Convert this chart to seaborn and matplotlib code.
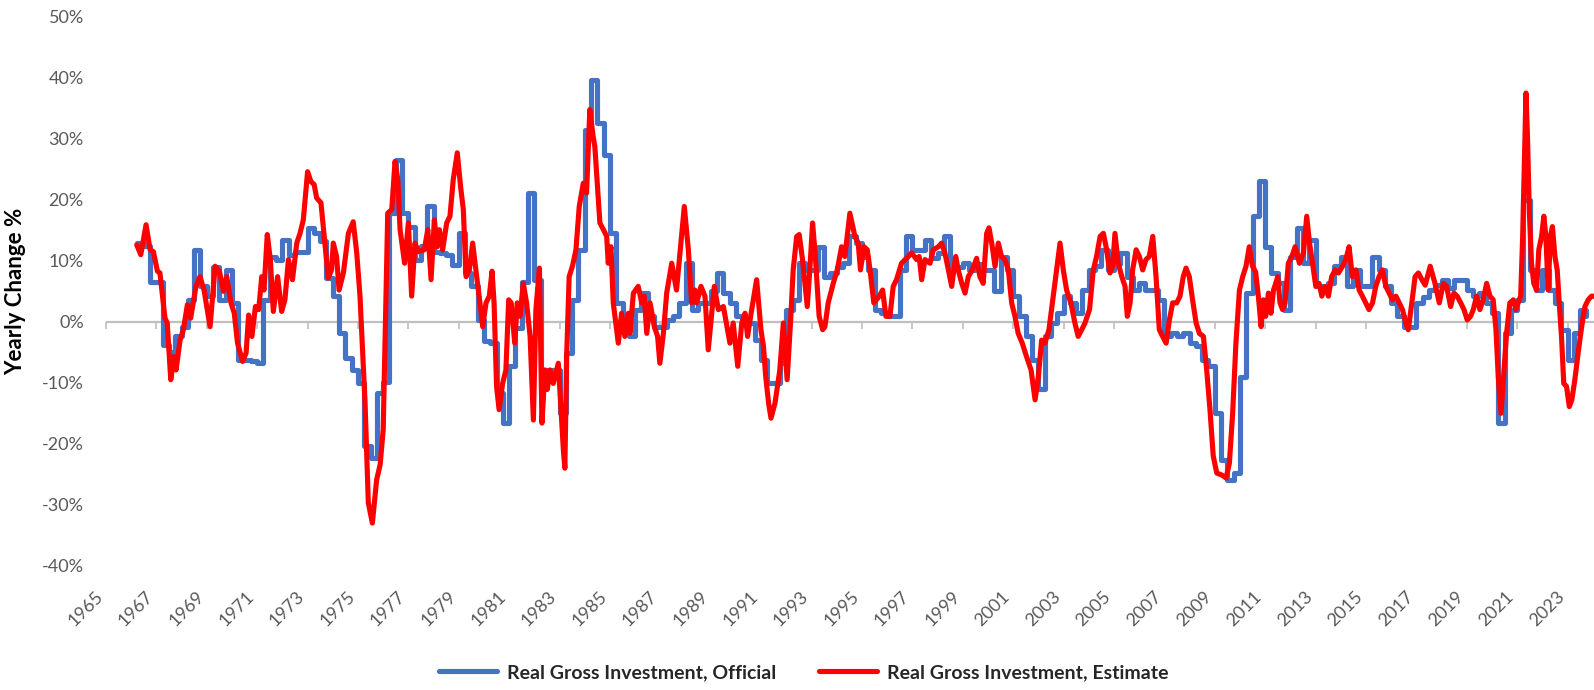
import numpy as np
import seaborn as sns
import matplotlib.pyplot as plt

# Real gross investment, official: quarterly yearly change (%), first value is Q2 1966
official_start = 1966.25
official_q = [
    12.9, 12.5, 6.6,             # 1966
    6.6, -3.8, -5.0, -2.4,       # 1967
    -0.8, 3.6, 11.8, 5.8,        # 1968
    4.2, 9.0, 3.6, 8.5,          # 1969
    3.0, -6.2, -6.2, -6.5,       # 1970
    -6.8, 3.6, 10.7, 10.2,       # 1971
    13.4, 11.0, 11.5, 11.5,      # 1972
    15.4, 14.5, 13.2, 7.2,       # 1973
    4.2, -1.9, -6.0, -7.9,       # 1974
    -10.0, -20.4, -22.3, -11.7,  # 1975
    -9.8, 17.8, 26.6, 17.8,      # 1976
    15.6, 10.2, 12.5, 18.9,      # 1977
    11.5, 11.3, 11.0, 9.3,       # 1978
    14.5, 8.0, 5.8, 0.3,         # 1979
    -3.2, -3.5, -11.7, -16.6,    # 1980
    -7.3, -1.0, 6.5, 21.1,       # 1981
    6.9, -7.9, -7.9, -7.9,       # 1982
    -15.0, -5.1, 3.6, 11.8,      # 1983
    31.5, 39.7, 32.6, 27.4,      # 1984
    14.5, 3.0, 0.0, -2.4,        # 1985
    2.0, 4.7, 0.9, -0.8,         # 1986
    -0.8, 0.3, 0.9, 3.1,         # 1987
    9.6, 2.0, 3.1, 3.1,          # 1988
    5.0, 8.0, 4.7, 3.1,          # 1989
    0.9, -0.2, -0.2, -3.0,       # 1990
    -6.2, -10.0, -10.0, -6.8,    # 1991
    2.0, 3.6, 9.6, 8.5,          # 1992
    8.5, 12.3, 7.4, 8.0,         # 1993
    9.0, 9.6, 14.0, 12.9,        # 1994
    10.7, 8.5, 2.0, 1.5,         # 1995
    0.9, 0.9, 8.5, 14.0,         # 1996
    11.8, 11.8, 13.4, 10.5,      # 1997
    11.3, 14.0, 9.0, 9.0,        # 1998
    9.6, 8.5, 9.5, 8.5,          # 1999
    8.5, 5.0, 10.7, 8.5,         # 2000
    4.2, 0.9, -2.4, -6.2,        # 2001
    -11.1, -2.4, -0.2, 1.5,      # 2002
    4.2, 3.1, 1.4, 5.2,          # 2003
    8.5, 9.1, 11.8, 8.5,         # 2004
    9.5, 11.3, 7.4, 5.2,         # 2005
    6.3, 5.2, 5.2, 3.6,          # 2006
    -2.4, -1.9, -2.4, -1.9,      # 2007
    -3.5, -4.0, -6.2, -7.3,      # 2008
    -15.0, -22.6, -25.9, -24.8,  # 2009
    -9.0, 4.7, 17.3, 23.0,       # 2010
    12.3, 8.0, 6.3, 2.0,         # 2011
    10.7, 15.4, 9.6, 13.4,       # 2012
    5.8, 5.2, 6.3, 9.1,          # 2013
    10.7, 5.8, 8.5, 5.8,         # 2014
    5.8, 10.7, 8.5, 5.8,         # 2015
    3.1, 0.9, -0.8, -0.8,        # 2016
    3.0, 4.0, 5.2, 6.0,          # 2017
    6.9, 5.5, 6.9, 6.9,          # 2018
    5.2, 4.2, 4.7, 3.1,          # 2019
    1.4, -16.6, -1.9, 2.0,       # 2020
    3.6, 20.0, 8.5, 5.2,         # 2021
    8.5, 5.2, 3.1, -1.3,         # 2022
    -6.2, -1.9, 2.0, 0.9,        # 2023
]

# Real gross investment, estimate: date (decimal year) and yearly change (%)
est_t = [
    1966.22, 1966.38, 1966.59, 1966.75, 1966.88, 1967.04, 1967.14, 1967.34, 1967.43, 1967.57, 1967.70, 1967.78, 1967.94,
    1968.07, 1968.23, 1968.36, 1968.57, 1968.73, 1968.89, 1969.13, 1969.33, 1969.50, 1969.66, 1969.79, 1969.96,
    1970.09, 1970.22, 1970.42, 1970.56, 1970.66, 1970.79, 1970.93, 1971.06, 1971.18, 1971.27, 1971.40, 1971.52, 1971.64, 1971.81, 1971.97,
    1972.10, 1972.24, 1972.40, 1972.57, 1972.70, 1972.83, 1973.00, 1973.13, 1973.26, 1973.36, 1973.53, 1973.66, 1973.82, 1973.95,
    1974.02, 1974.15, 1974.25, 1974.42, 1974.62, 1974.81, 1974.95, 1975.08, 1975.28, 1975.41, 1975.57, 1975.74, 1975.88,
    1976.00, 1976.18, 1976.34, 1976.47, 1976.58, 1976.67, 1976.85, 1977.00, 1977.13, 1977.26, 1977.40, 1977.63, 1977.77, 1977.90,
    1978.03, 1978.14, 1978.23, 1978.36, 1978.52, 1978.65, 1978.78, 1978.94, 1979.07, 1979.18, 1979.29, 1979.42, 1979.55, 1979.71, 1979.84, 1979.95,
    1980.08, 1980.21, 1980.32, 1980.40, 1980.50, 1980.60, 1980.74, 1980.87, 1980.98, 1981.08, 1981.22, 1981.32, 1981.43, 1981.56, 1981.69, 1981.83, 1981.96,
    1982.06, 1982.20, 1982.30, 1982.42, 1982.51, 1982.62, 1982.75, 1982.95, 1983.04, 1983.15, 1983.21, 1983.28, 1983.38, 1983.51, 1983.65, 1983.78, 1983.94,
    1984.07, 1984.20, 1984.33, 1984.40, 1984.54, 1984.60, 1984.74, 1984.87, 1984.93, 1985.04, 1985.13, 1985.33, 1985.46, 1985.59, 1985.73, 1985.79, 1985.93,
    1986.12, 1986.26, 1986.36, 1986.46, 1986.59, 1986.76, 1986.89, 1986.98, 1987.12, 1987.25, 1987.45, 1987.64, 1987.95,
    1988.11, 1988.24, 1988.37, 1988.44, 1988.61, 1988.77, 1988.90, 1989.14, 1989.30, 1989.50, 1989.76, 1989.89,
    1990.07, 1990.23, 1990.36, 1990.46, 1990.60, 1990.82, 1990.99, 1991.09, 1991.18, 1991.30, 1991.39, 1991.55, 1991.74, 1991.88,
    1992.03, 1992.17, 1992.27, 1992.41, 1992.51, 1992.64, 1992.83, 1992.93, 1993.04, 1993.15, 1993.30, 1993.44, 1993.53, 1993.66, 1993.86,
    1994.02, 1994.19, 1994.32, 1994.52, 1994.72, 1994.85, 1994.94, 1995.08, 1995.21, 1995.32, 1995.47, 1995.69, 1995.82, 1995.95,
    1996.11, 1996.24, 1996.37, 1996.57, 1996.84, 1996.97, 1997.17, 1997.27, 1997.37, 1997.50, 1997.70, 1997.83,
    1998.03, 1998.16, 1998.29, 1998.43, 1998.56, 1998.72, 1998.82, 1998.96, 1999.09, 1999.22, 1999.38, 1999.55, 1999.68, 1999.81, 1999.95,
    2000.04, 2000.15, 2000.28, 2000.41, 2000.54, 2000.67, 2000.81, 2000.94, 2001.07, 2001.20, 2001.36, 2001.53, 2001.71, 2001.87,
    2002.00, 2002.13, 2002.26, 2002.42, 2002.59, 2002.72, 2002.86, 2002.99, 2003.12, 2003.29, 2003.45, 2003.58, 2003.72, 2003.85,
    2004.03, 2004.18, 2004.31, 2004.45, 2004.58, 2004.71, 2004.84, 2004.95, 2005.04, 2005.17, 2005.31, 2005.44, 2005.53, 2005.64, 2005.74, 2005.88,
    2006.01, 2006.14, 2006.27, 2006.40, 2006.54, 2006.67, 2006.80, 2006.93, 2007.07, 2007.20, 2007.33, 2007.49, 2007.62, 2007.75, 2007.86, 2007.99,
    2008.12, 2008.26, 2008.39, 2008.55, 2008.68, 2008.81, 2008.94, 2009.08, 2009.27, 2009.45, 2009.58, 2009.71, 2009.84, 2009.98,
    2010.11, 2010.24, 2010.37, 2010.50, 2010.62, 2010.73, 2010.84, 2010.93, 2011.02, 2011.13, 2011.23, 2011.33, 2011.42, 2011.50, 2011.59, 2011.69, 2011.79, 2011.92,
    2012.06, 2012.19, 2012.36, 2012.52, 2012.65, 2012.76, 2012.88, 2013.01, 2013.14, 2013.25, 2013.38, 2013.51, 2013.64, 2013.78, 2013.91,
    2014.07, 2014.20, 2014.33, 2014.46, 2014.60, 2014.73, 2014.86, 2014.99, 2015.12, 2015.26, 2015.39, 2015.52, 2015.65, 2015.79, 2015.92,
    2016.05, 2016.19, 2016.32, 2016.45, 2016.58, 2016.68, 2016.82, 2016.95, 2017.08, 2017.22, 2017.35, 2017.55, 2017.74, 2017.91,
    2018.07, 2018.20, 2018.36, 2018.49, 2018.62, 2018.76, 2018.89, 2019.02, 2019.15, 2019.26, 2019.39, 2019.52, 2019.65, 2019.79, 2019.92,
    2020.05, 2020.16, 2020.25, 2020.36, 2020.48, 2020.58, 2020.71, 2020.85, 2020.95, 2021.04, 2021.14, 2021.22, 2021.28, 2021.35, 2021.41, 2021.48, 2021.57, 2021.66, 2021.77, 2021.86, 2021.97,
    2022.06, 2022.14, 2022.23, 2022.32, 2022.40, 2022.50, 2022.59, 2022.67, 2022.76, 2022.85, 2022.96, 2023.07, 2023.17, 2023.29, 2023.42, 2023.56, 2023.69, 2023.82, 2023.95, 2024.03,
]
est_v = [
    12.6, 11.0, 15.9, 11.8, 11.5, 8.3, 8.0, 0.6, -0.2, -9.5, -5.7, -7.9, -3.0,
    -1.3, 2.8, 0.6, 5.8, 7.4, 5.2, -0.8, 9.1, 8.3, 5.0, 7.4, 3.1,
    1.4, -3.5, -6.5, -5.1, 1.1, -2.4, 2.5, 2.0, 7.4, 5.2, 14.3, 10.2, 1.7, 7.4, 1.7,
    3.6, 10.2, 6.9, 12.9, 14.5, 16.7, 24.6, 23.0, 22.5, 20.3, 19.5, 14.0, 7.2, 8.5,
    12.9, 10.7, 5.2, 8.0, 14.5, 16.4, 11.3, 4.2, -13.3, -29.7, -33.0, -25.9, -23.4,
    -17.7, 17.8, 18.4, 26.3, 23.3, 15.1, 9.6, 16.2, 4.2, 12.9, 11.5, 11.8, 15.1, 6.9,
    16.7, 12.3, 15.1, 11.8, 16.2, 17.3, 23.3, 27.7, 22.2, 18.4, 7.4, 8.5, 12.9, 7.4, 3.1, -0.8,
    3.1, 4.2, 8.3, 3.1, -10.6, -14.4, -10.1, -7.9, 3.6, 3.1, -3.5, 3.1, 0.9, 6.3, 3.1, -2.4, -16.1,
    2.0, 8.8, -16.6, -7.9, -11.1, -7.9, -10.1, -6.8, -13.3, -21.0, -24.0, -5.7, 7.4, 9.1, 11.8, 18.9, 22.7,
    21.1, 34.8, 30.4, 28.7, 20.0, 16.2, 15.1, 14.0, 9.6, 12.3, 3.1, -3.5, 1.4, -2.4, 1.4, -1.9, 4.7,
    5.8, 3.1, 4.2, -1.9, 3.1, -0.8, -2.4, -6.8, -1.9, 4.7, 9.6, 5.2, 18.9,
    11.8, 3.1, 5.2, 3.1, 5.8, 4.2, -4.6, 5.8, 2.0, 2.5, -3.5, -0.2,
    -7.3, -0.2, 1.4, -2.4, 1.4, 6.9, -1.3, -4.0, -9.0, -13.5, -15.8, -13.3, -7.9, -0.2,
    -9.5, 0.3, 8.5, 14.0, 14.3, 10.2, 2.5, 8.5, 16.2, 10.7, 0.9, -1.3, -0.8, 3.1, 6.3,
    8.5, 12.3, 10.7, 17.8, 14.0, 12.9, 8.5, 12.3, 11.8, 8.5, 3.1, 4.2, 5.2, 0.9,
    0.9, 5.8, 6.9, 9.6, 10.7, 11.3, 10.2, 10.7, 6.9, 10.2, 9.6, 11.8,
    12.3, 12.9, 11.3, 8.5, 5.8, 10.7, 8.5, 6.3, 4.7, 7.4, 8.5, 10.4, 7.4, 6.3, 14.5,
    15.4, 12.9, 9.1, 12.9, 10.7, 10.2, 8.5, 3.1, 0.9, -1.9, -3.5, -5.7, -7.9, -12.8,
    -9.0, -3.0, -3.5, -1.3, 4.2, 8.5, 12.9, 8.5, 5.2, 3.1, -0.2, -2.4, -1.3, -0.2,
    2.0, 8.5, 10.7, 14.0, 14.5, 11.8, 8.0, 9.1, 14.5, 9.6, 7.4, 5.8, 0.9, 3.1, 8.5, 11.8,
    10.7, 8.5, 10.2, 10.7, 14.0, 7.4, -1.3, -2.4, -3.5, 0.3, 3.1, 3.1, 4.2, 7.4, 8.8, 7.4,
    3.6, -0.2, -1.9, -2.4, -7.9, -14.4, -22.0, -24.8, -25.1, -25.6, -23.2, -15.0, -3.5, 5.2,
    7.4, 9.1, 12.3, 9.1, 8.2, 4.2, -0.8, 3.6, 0.9, 4.7, 1.4, 5.2, 6.3, 7.4, 3.1, 2.0, 3.1, 9.6,
    10.7, 12.3, 9.6, 11.3, 17.3, 12.9, 9.6, 5.8, 6.3, 4.2, 5.8, 4.2, 7.4, 8.5, 8.0,
    9.1, 10.2, 12.3, 7.4, 8.5, 5.2, 4.2, 3.1, 2.0, 3.1, 5.8, 7.4, 8.5, 5.8, 4.7,
    3.6, 4.2, 3.1, 2.0, -0.2, -1.3, 3.1, 7.4, 8.0, 6.9, 6.0, 9.1, 6.3, 3.1,
    6.3, 5.8, 2.5, 4.7, 4.2, 3.1, 2.0, 0.3, 0.9, 2.0, 4.2, 2.0, 3.6, 6.3, 4.2,
    3.6, -1.3, -9.0, -15.0, -7.9, -1.9, 3.1, 3.6, 2.0, 3.1, 4.2, 14.0, 24.9, 37.5, 30.4, 18.4, 9.6, 6.3, 5.2, 11.8, 14.0,
    17.3, 14.0, 5.2, 14.0, 15.6, 10.7, 8.5, 3.1, -2.4, -10.1, -10.6, -13.9, -12.8, -9.5, -5.1, -0.8, 2.5, 3.6, 4.2, 4.2,
]

year_ticks = list(range(1965, 2024, 2))
pct_ticks = list(range(-40, 51, 10))

official_t = official_start + np.arange(len(official_q)) / 4

sns.set_theme(style="white")
plt.rcParams["font.family"] = ["Lato", "DejaVu Sans"]

fig = plt.figure(figsize=(15.94, 6.9), dpi=100)
ax = fig.add_axes([0.0665, 0.180, 0.9335, 0.7957])

# zero line with small tick marks, like the excel axis crossing at 0
ax.axhline(0, color="#BFBFBF", lw=1.6, zorder=1)
zero_axis = ax.secondary_xaxis(40 / 90)
zero_axis.set_alignment("bottom")
zero_axis.set_xticks(year_ticks)
zero_axis.tick_params(axis="x", direction="out", length=5, width=1.2, color="#BFBFBF",
                      labelbottom=False, labeltop=False, bottom=True, top=False)
for s in zero_axis.spines.values():
    s.set_visible(False)
zero_axis.set_zorder(0.5)

sns.lineplot(x=official_t, y=official_q, ax=ax, color="#4472C4", lw=3.7,
             drawstyle="steps-post", estimator=None, label="Real Gross Investment, Official")
sns.lineplot(x=est_t, y=est_v, ax=ax, color="#FF0000", lw=3.7, estimator=None,
             solid_joinstyle="round", label="Real Gross Investment, Estimate")

ax.set_xlim(1965, 2024.05)
ax.set_ylim(-40, 50)
ax.set_xticks(year_ticks)
ax.set_xticklabels([str(y) for y in year_ticks], rotation=45, ha="right", va="top")
ax.set_yticks(pct_ticks)
ax.set_yticklabels([f"{p}%" for p in pct_ticks])
ax.tick_params(axis="x", length=0, pad=16, labelsize=13, labelcolor="#595959")
ax.tick_params(axis="y", length=0, pad=16, labelsize=13, labelcolor="#595959")
for s in ax.spines.values():
    s.set_visible(False)
ax.grid(False)
ax.set_xlabel("")
ax.set_ylabel("Yearly Change %", fontsize=16, fontweight="bold", color="black")
ax.yaxis.set_label_coords(-0.054, 0.5)

handles, labels = ax.get_legend_handles_labels()
if ax.get_legend() is not None:
    ax.get_legend().remove()
fig.legend(handles, labels, loc="center", bbox_to_anchor=(0.504, 0.025), ncol=2,
           frameon=False, prop={"weight": "bold", "size": 14}, handlelength=3.0,
           columnspacing=2.2, handletextpad=0.5)

fig.savefig("out.png", dpi=100)
